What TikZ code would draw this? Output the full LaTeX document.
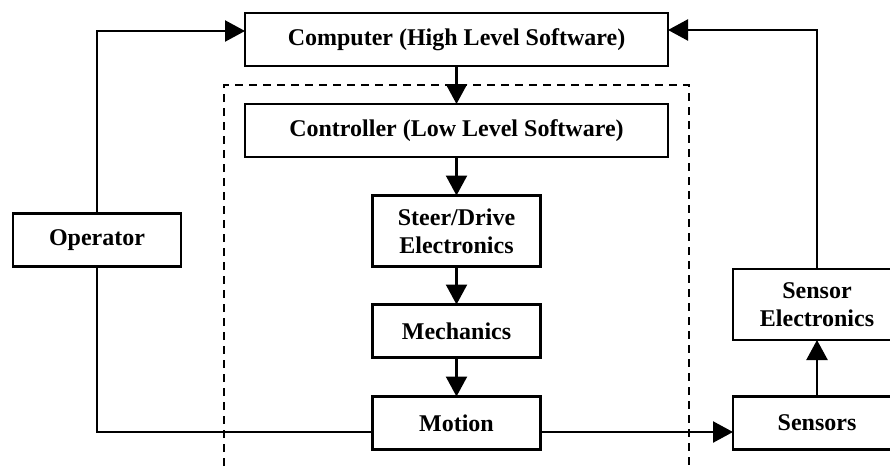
\documentclass[tikz,border=0pt]{standalone}
\usepackage{fontspec}
\setmainfont{Liberation Serif}
\usepackage{tikz}
\usepackage{tkz-graph}
\usetikzlibrary{arrows.meta}

\begin{document}
\begin{tikzpicture}[x=1pt, y=-1pt]
    \clip (0,0) rectangle (890,466);
        \SetUpEdge[lw = 2.3pt,
        color = black]
        \GraphInit[vstyle=Normal]
        \tikzset{boundary/.style={draw, line width=2.3pt, dash pattern=on 8pt off 6pt}}
        \tikzset{VertexStyle/.style={draw, rectangle, line width=2.3pt, inner sep=0pt,
            align=center, font=\fontsize{24}{28}\selectfont\bfseries,
            minimum width=423pt, minimum height=53pt}}
        \draw[boundary] (224,480) |- (689,85) -- (689,480);
        \Vertex[x=456.5, y=39.5, L={Computer (High Level Software)}]{Comp}
        \Vertex[x=456.5, y=130.5, L={Controller (Low Level Software)}]{Ctrl}
        \tikzset{VertexStyle/.append style={minimum width=168pt}}
        \Vertex[x=456.5, y=331, L={Mechanics}]{Mech}
        \Vertex[x=456.5, y=423, L={Motion}]{Mot}
        \Vertex[x=97, y=240, L={Operator}]{Op}
        \Vertex[x=817, y=423, L={Sensors}]{Sens}
        \tikzset{VertexStyle/.append style={minimum height=71pt}}
        \Vertex[x=456.5, y=231, L={Steer/Drive\\Electronics}]{Steer}
        \Vertex[x=817, y=304.5, L={Sensor\\Electronics}]{SElec}
        \tikzset{EdgeStyle/.style={draw=black, line width=2.3pt,
            -{Triangle[length=20pt, width=21pt]}}}
        \Edge(Comp)(Ctrl)
        \Edge(Ctrl)(Steer)
        \Edge(Steer)(Mech)
        \Edge(Mech)(Mot)
        \Edge(Sens)(SElec)
        \draw[EdgeStyle] (Op.north) |- ([yshift=8.5pt]Comp.west);
        \draw[EdgeStyle] (SElec.north) |- ([yshift=9.5pt]Comp.east);
        \draw[EdgeStyle] ([yshift=-9pt]Mot.east) -- ([yshift=-9pt]Sens.west);
        \draw[EdgeStyle, -] (Op.south) |- ([yshift=-9pt]Mot.west);
    \end{tikzpicture}
\end{document}
